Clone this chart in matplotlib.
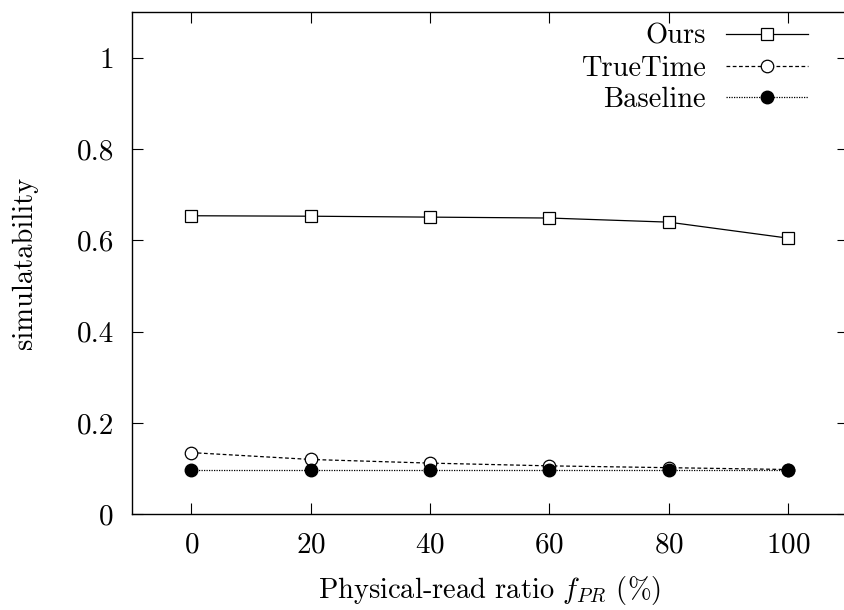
import matplotlib
matplotlib.use('Agg')
import matplotlib.pyplot as plt
from matplotlib.ticker import FuncFormatter

plt.rcParams['font.family'] = 'serif'
plt.rcParams['font.serif'] = ['cmr10', 'DejaVu Serif']
plt.rcParams['mathtext.fontset'] = 'cm'
plt.rcParams['axes.formatter.use_mathtext'] = True

# physical-read ratio (%)
ratio = [0, 20, 40, 60, 80, 100]
ours = [0.654, 0.653, 0.651, 0.649, 0.640, 0.605]
truetime = [0.135, 0.120, 0.112, 0.106, 0.102, 0.098]
baseline = [0.097, 0.097, 0.097, 0.097, 0.097, 0.097]

fig = plt.figure(figsize=(8.45, 6.1), dpi=100)
ax = fig.add_axes([0.156, 0.157, 0.847, 0.823])

ax.plot(ratio, ours, '-', color='black', lw=0.9, marker='s', ms=9,
        mfc='white', mec='black', mew=0.9, label='Ours')
ax.plot(ratio, truetime, color='black', lw=0.9, ls=(0, (3, 2)), marker='o', ms=9,
        mfc='white', mec='black', mew=0.9, label='TrueTime')
ax.plot(ratio, baseline, color='black', lw=0.9, ls=(0, (1, 1)), marker='o', ms=9,
        mfc='black', mec='black', label='Baseline')

ax.set_xlim(-10, 110)
ax.set_ylim(0, 1.1)
ax.set_xticks(ratio)
ax.set_yticks([0, 0.2, 0.4, 0.6, 0.8, 1.0])
ax.yaxis.set_major_formatter(FuncFormatter(lambda v, p: '%g' % v))
ax.tick_params(direction='in', top=True, right=True, length=8, width=0.8,
               labelsize=21, pad=13)
for s in ax.spines.values():
    s.set_linewidth(1.0)

ax.set_xlabel(r'Physical-read ratio $f_{PR}$ (%)', fontsize=20.5, labelpad=11)
ax.set_ylabel('simulatability', fontsize=20.5, labelpad=28)

ax.legend(loc='upper right', frameon=False, markerfirst=False, fontsize=20.5,
          handlelength=2.9, handletextpad=0.7, labelspacing=0.19,
          bbox_to_anchor=(0.961, 1.0), borderaxespad=0.0)

fig.savefig('out.png', dpi=100)
